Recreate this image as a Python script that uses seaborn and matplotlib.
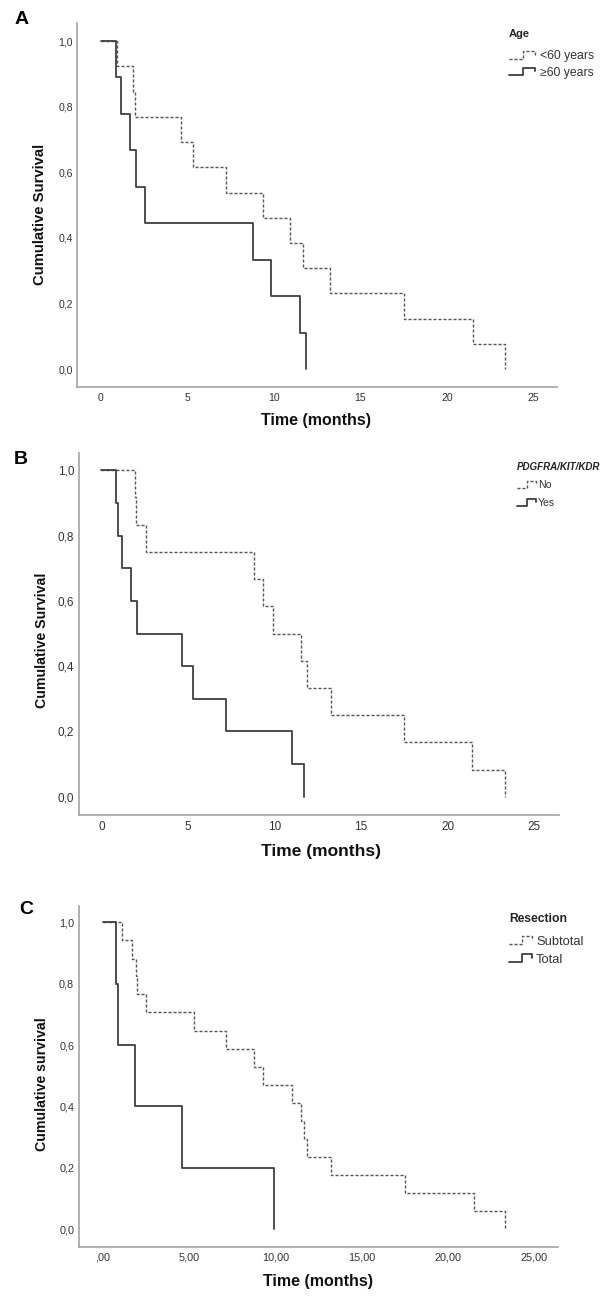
import numpy as np
import pandas as pd
import matplotlib
matplotlib.use("Agg")
import matplotlib.pyplot as plt
import seaborn as sns
from matplotlib.legend_handler import HandlerBase
from matplotlib.lines import Line2D
from matplotlib.ticker import FixedLocator, FixedFormatter

# ---------------- data ----------------
a_lt60_time = [0, 0.92, 1.88, 1.98, 4.63, 5.31, 7.23, 9.35, 10.96, 11.68, 13.27, 17.50, 21.50, 23.33]
a_lt60_surv = [1.0, 0.923, 0.846, 0.769, 0.692, 0.615, 0.538, 0.462, 0.385, 0.308, 0.231, 0.154, 0.077, 0.0]
a_ge60_time = [0, 0.87, 1.15, 1.69, 2.04, 2.57, 8.81, 9.84, 11.52, 11.86]
a_ge60_surv = [1.0, 0.889, 0.778, 0.667, 0.556, 0.444, 0.333, 0.222, 0.111, 0.0]

b_no_time = [0, 1.94, 2.00, 2.57, 8.81, 9.35, 9.90, 11.56, 11.85, 13.26, 17.49, 21.44, 23.32]
b_no_surv = [1.0, 0.917, 0.833, 0.750, 0.667, 0.583, 0.500, 0.417, 0.333, 0.250, 0.167, 0.083, 0.0]
b_yes_time = [0, 0.84, 0.96, 1.20, 1.72, 2.03, 4.67, 5.30, 7.22, 11.00, 11.72]
b_yes_surv = [1.0, 0.9, 0.8, 0.7, 0.6, 0.5, 0.4, 0.3, 0.2, 0.1, 0.0]

c_sub_time = [0, 1.12, 1.68, 1.90, 1.97, 2.51, 5.25, 7.15, 8.74, 9.30, 10.96, 11.50, 11.66, 11.85,
              13.23, 17.49, 21.48, 23.32]
c_sub_surv = [1.0, 0.941, 0.882, 0.824, 0.765, 0.706, 0.647, 0.588, 0.529, 0.471, 0.412, 0.353,
              0.294, 0.235, 0.176, 0.118, 0.059, 0.0]
c_tot_time = [0, 0.78, 0.90, 1.88, 4.60, 9.89]
c_tot_surv = [1.0, 0.8, 0.6, 0.4, 0.2, 0.0]

x_ticks = [0, 5, 10, 15, 20, 25]
x_ticklabels_ab = ["0", "5", "10", "15", "20", "25"]
x_ticklabels_c = [",00", "5,00", "10,00", "15,00", "20,00", "25,00"]
y_ticks = [0.0, 0.2, 0.4, 0.6, 0.8, 1.0]
y_ticklabels = ["0,0", "0,2", "0,4", "0,6", "0,8", "1,0"]

groups_a = ["<60 years", "\u226560 years"]
groups_b = ["No", "Yes"]
groups_c = ["Subtotal", "Total"]
titles = ["Age", "PDGFRA/KIT/KDR", "Resection"]
ylabels = ["Cumulative Survival", "Cumulative Survival", "Cumulative survival"]
xlabel = "Time (months)"
letters = ["A", "B", "C"]

# ---------------- style ----------------
sns.set_style("white")
plt.rcParams["font.family"] = ["Liberation Sans", "DejaVu Sans"]

DASH_COL = "#555555"
SOLID_COL = "#3f3f3f"
SPINE_COL = "#a3a3a3"
TICK_COL = "#333333"


class StepHandler(HandlerBase):
    def create_artists(self, legend, orig_handle, xdescent, ydescent, width, height, fontsize, trans):
        fx = np.array([0.0, 0.52, 0.52, 0.96, 0.96])
        fy = np.array([0.05, 0.05, 0.95, 0.95, 0.55])
        line = Line2D(fx * width - xdescent, fy * height - ydescent)
        line.update_from(orig_handle)
        line.set_drawstyle("default")
        line.set_marker("")
        line.set_transform(trans)
        return [line]


def make_df(t1, s1, t2, s2, names):
    d1 = pd.DataFrame({"time": t1, "surv": s1, "group": names[0]})
    d2 = pd.DataFrame({"time": t2, "surv": s2, "group": names[1]})
    return pd.concat([d1, d2], ignore_index=True)


panels = [
    dict(df=make_df(a_lt60_time, a_lt60_surv, a_ge60_time, a_ge60_surv, groups_a), names=groups_a,
         rect=[0.1275, 0.7023, 0.7909, 0.2802], xlim=(-1.346, 26.39), ylim=(-0.054, 1.056),
         xtl=x_ticklabels_ab, tick_fs=7.6, ylab_fs=10.7, xlab_fs=11.5,
         ylab_xy=(-0.078, 0.472), xlab_xy=(0.498, -0.094),
         leg_xy=(0.899, 0.9825), leg_fs=8.8, title_fs=8.0, title_style="normal",
         handlelength=2.2, handletextpad=0.33, labelspacing=0.35, title_sep=8.1,
         letter_xy=(22 / 607, 1 - 19.7 / 1299)),
    dict(df=make_df(b_no_time, b_no_surv, b_yes_time, b_yes_surv, groups_b), names=groups_b,
         rect=[0.1295, 0.3726, 0.7908, 0.2789], xlim=(-1.32, 26.42), ylim=(-0.056, 1.054),
         xtl=x_ticklabels_ab, tick_fs=8.5, ylab_fs=10.2, xlab_fs=12.5,
         ylab_xy=(-0.077, 0.483), xlab_xy=(0.505, -0.0994),
         leg_xy=(0.913, 0.973), leg_fs=7.6, title_fs=7.0, title_style="italic",
         handlelength=1.9, handletextpad=0.1, labelspacing=0.72, title_sep=5.7,
         letter_xy=(20.8 / 607, 1 - 459 / 1299)),
    dict(df=make_df(c_sub_time, c_sub_surv, c_tot_time, c_tot_surv, groups_c), names=groups_c,
         rect=[0.1295, 0.0404, 0.7903, 0.2621], xlim=(-1.41, 26.39), ylim=(-0.057, 1.053),
         xtl=x_ticklabels_c, tick_fs=7.8, ylab_fs=10.2, xlab_fs=11.5,
         ylab_xy=(-0.0763, 0.477), xlab_xy=(0.498, -0.1034),
         leg_xy=(0.897, 0.981), leg_fs=9.3, title_fs=8.7, title_style="normal",
         handlelength=1.9, handletextpad=0.2, labelspacing=0.45, title_sep=8.1,
         letter_xy=(26 / 607, 1 - 910 / 1299)),
]

fig = plt.figure(figsize=(6.07, 12.99), dpi=100)

for i, p in enumerate(panels):
    ax = fig.add_axes(p["rect"])
    names = p["names"]
    sns.lineplot(data=p["df"], x="time", y="surv", hue="group", style="group",
                 hue_order=names, style_order=names,
                 palette={names[0]: DASH_COL, names[1]: SOLID_COL},
                 dashes={names[0]: (2.2, 1.4), names[1]: ""},
                 estimator=None, sort=False, drawstyle="steps-post",
                 legend=False, ax=ax)
    lines = ax.get_lines()
    lines[0].set_linewidth(1.0)
    lines[1].set_linewidth(1.3)

    ax.set_xlim(*p["xlim"])
    ax.set_ylim(*p["ylim"])
    ax.xaxis.set_major_locator(FixedLocator(x_ticks))
    ax.xaxis.set_major_formatter(FixedFormatter(p["xtl"]))
    ax.yaxis.set_major_locator(FixedLocator(y_ticks))
    ax.yaxis.set_major_formatter(FixedFormatter(y_ticklabels))
    ax.tick_params(axis="x", length=0, pad=4.2, labelsize=p["tick_fs"], labelcolor=TICK_COL)
    ax.tick_params(axis="y", length=0, pad=3.2, labelsize=p["tick_fs"], labelcolor=TICK_COL)

    for s in ["top", "right"]:
        ax.spines[s].set_visible(False)
    for s in ["left", "bottom"]:
        ax.spines[s].set_color(SPINE_COL)
        ax.spines[s].set_linewidth(1.2)
    ax.grid(False)

    ax.set_xlabel(xlabel, fontsize=p["xlab_fs"], fontweight="bold", color="#111111", va="center")
    ax.xaxis.set_label_coords(*p["xlab_xy"])
    ax.set_ylabel(ylabels[i], fontsize=p["ylab_fs"], fontweight="bold", color="#111111", va="center")
    ax.yaxis.set_label_coords(*p["ylab_xy"])

    leg = ax.legend(lines[:2], names, title=titles[i], loc="upper left",
                    bbox_to_anchor=p["leg_xy"], frameon=False, borderpad=0, borderaxespad=0,
                    fontsize=p["leg_fs"],
                    title_fontproperties={"weight": "bold", "size": p["title_fs"],
                                          "style": p["title_style"]},
                    alignment="left", handlelength=p["handlelength"], handleheight=0.7,
                    handletextpad=p["handletextpad"], labelspacing=p["labelspacing"],
                    handler_map={Line2D: StepHandler()})
    for t in leg.get_texts():
        t.set_color(TICK_COL)
    leg.get_title().set_color("#222222")
    leg._legend_box.sep = p["title_sep"]

    fig.text(p["letter_xy"][0], p["letter_xy"][1], letters[i], fontsize=14, fontweight="bold",
             ha="center", va="center", color="#000000")

fig.savefig("out.png", dpi=100)
